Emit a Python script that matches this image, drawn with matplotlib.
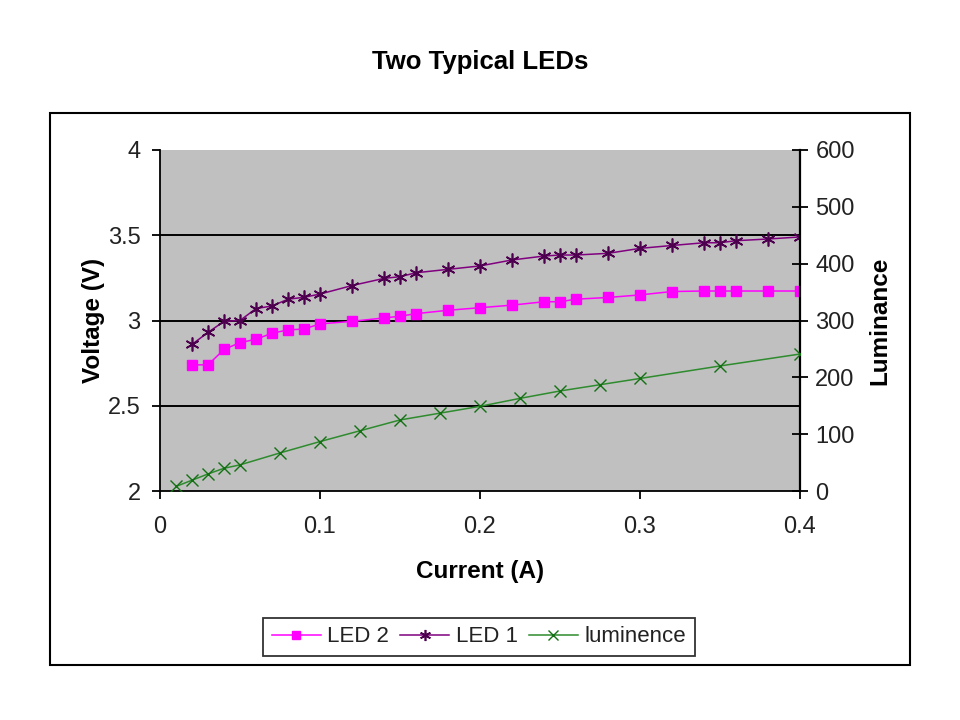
import matplotlib
matplotlib.use("Agg")
import matplotlib.pyplot as plt
from matplotlib.patches import Rectangle

plt.rcParams['font.family'] = ['Liberation Sans', 'DejaVu Sans']

# LED 2 (squares)
led2_current = [0.02, 0.03, 0.04, 0.05, 0.06, 0.07, 0.08, 0.09, 0.10, 0.12, 0.14, 0.15,
                0.16, 0.18, 0.20, 0.22, 0.24, 0.25, 0.26, 0.28, 0.30, 0.32, 0.34, 0.35,
                0.36, 0.38, 0.40]
led2_voltage = [2.74, 2.74, 2.83, 2.87, 2.89, 2.925, 2.945, 2.95, 2.98, 2.995, 3.015, 3.025,
                3.04, 3.06, 3.075, 3.09, 3.11, 3.11, 3.125, 3.135, 3.15, 3.17, 3.173, 3.173,
                3.173, 3.173, 3.173]

# LED 1 (asterisks)
led1_current = [0.02, 0.03, 0.04, 0.05, 0.06, 0.07, 0.08, 0.09, 0.10, 0.12, 0.14, 0.15,
                0.16, 0.18, 0.20, 0.22, 0.24, 0.25, 0.26, 0.28, 0.30, 0.32, 0.34, 0.35,
                0.36, 0.38, 0.40]
led1_voltage = [2.86, 2.93, 2.995, 3.0, 3.07, 3.085, 3.125, 3.136, 3.155, 3.205, 3.247, 3.257,
                3.28, 3.30, 3.32, 3.355, 3.378, 3.384, 3.384, 3.394, 3.423, 3.44, 3.456, 3.456,
                3.468, 3.478, 3.49]

# Luminance (x markers, right axis)
lum_current = [0.01, 0.02, 0.03, 0.04, 0.05, 0.075, 0.10, 0.125, 0.15, 0.175, 0.20,
               0.225, 0.25, 0.275, 0.30, 0.35, 0.40]
lum_value = [8, 19, 30, 40, 46, 67, 87, 106, 125, 137, 149, 163, 176, 187, 198, 220, 241]

x_ticks = [0, 0.1, 0.2, 0.3, 0.4]
x_tick_labels = ["0", "0.1", "0.2", "0.3", "0.4"]
v_ticks = [2, 2.5, 3, 3.5, 4]
v_tick_labels = ["2", "2.5", "3", "3.5", "4"]
l_ticks = [0, 100, 200, 300, 400, 500, 600]

fig = plt.figure(figsize=(9.6, 7.2), dpi=100)
fig.patch.set_facecolor('white')

# outer chart border
fig.patches.append(Rectangle((50 / 960, 1 - 665 / 720), 860 / 960, 552 / 720,
                             transform=fig.transFigure, fill=False,
                             edgecolor='black', linewidth=1.5, zorder=0))

fig.text(0.5, 1 - 62 / 720, "Two Typical LEDs", ha='center', va='center',
         fontsize=18.5, fontweight='bold')

ax = fig.add_axes([160 / 960, 1 - 491 / 720, 640 / 960, 341 / 720])
ax.set_facecolor('#c0c0c0')
ax.set_xlim(0, 0.4)
ax.set_ylim(2, 4)
ax.set_xticks(x_ticks)
ax.set_xticklabels(x_tick_labels)
ax.set_yticks(v_ticks)
ax.set_yticklabels(v_tick_labels)
for y in [2.5, 3, 3.5]:
    ax.axhline(y, color='black', linewidth=1.4, zorder=1)

ax.spines['top'].set_visible(False)
ax.spines['right'].set_visible(False)
ax.spines['left'].set_linewidth(1.3)
ax.spines['bottom'].set_linewidth(1.3)
ax.tick_params(axis='x', direction='out', length=6, width=1.3,
               labelsize=17, colors='black', labelcolor='#222222', pad=12)
ax.tick_params(axis='y', direction='out', length=6, width=1.3,
               labelsize=17, colors='black', labelcolor='#222222', pad=8)

ax.set_xlabel("Current (A)", fontsize=17.5, fontweight='bold', labelpad=16)
ax.set_ylabel("Voltage (V)", fontsize=17.5, fontweight='bold', labelpad=2)

l2, = ax.plot(led2_current, led2_voltage, color='#ff00ff', linewidth=1.1,
              marker='s', markersize=7, markerfacecolor='#ff00ff',
              markeredgecolor='#ff00ff', zorder=3, label='LED 2')
l1, = ax.plot(led1_current, led1_voltage, color='#800080', linewidth=1.1,
              marker=(6, 2, 0), markersize=10, markeredgewidth=1.2,
              markeredgecolor='#4d004d', zorder=3, label='LED 1')

ax2 = ax.twinx()
ax2.set_ylim(0, 600)
ax2.set_yticks(l_ticks)
ax2.set_xlim(0, 0.4)
for s in ['top', 'left', 'bottom']:
    ax2.spines[s].set_visible(False)
ax2.spines['right'].set_linewidth(1.6)
ax2.tick_params(axis='y', direction='inout', length=12, width=1.3,
                labelsize=17, labelcolor='#222222', pad=5)
ax2.set_ylabel("Luminance", fontsize=17.5, fontweight='bold', labelpad=10)
lm, = ax2.plot(lum_current, lum_value, color='#2e8b2e', linewidth=1.1,
               marker='x', markersize=9, markeredgewidth=1.0,
               markeredgecolor='#137013', zorder=3, label='luminence')

leg = fig.legend(handles=[l2, l1, lm], labels=['LED 2', 'LED 1', 'luminence'],
                 loc='center', bbox_to_anchor=(479 / 960, 1 - 637 / 720),
                 ncol=3, fontsize=16, frameon=True, fancybox=False,
                 handlelength=2.2, handletextpad=0.3, columnspacing=0.5,
                 borderpad=0.4, markerscale=0.8)
leg.get_frame().set_edgecolor('black')
leg.get_frame().set_linewidth(1.3)
for t in leg.get_texts():
    t.set_color('#222222')

fig.savefig("out.png", dpi=100, facecolor='white')
